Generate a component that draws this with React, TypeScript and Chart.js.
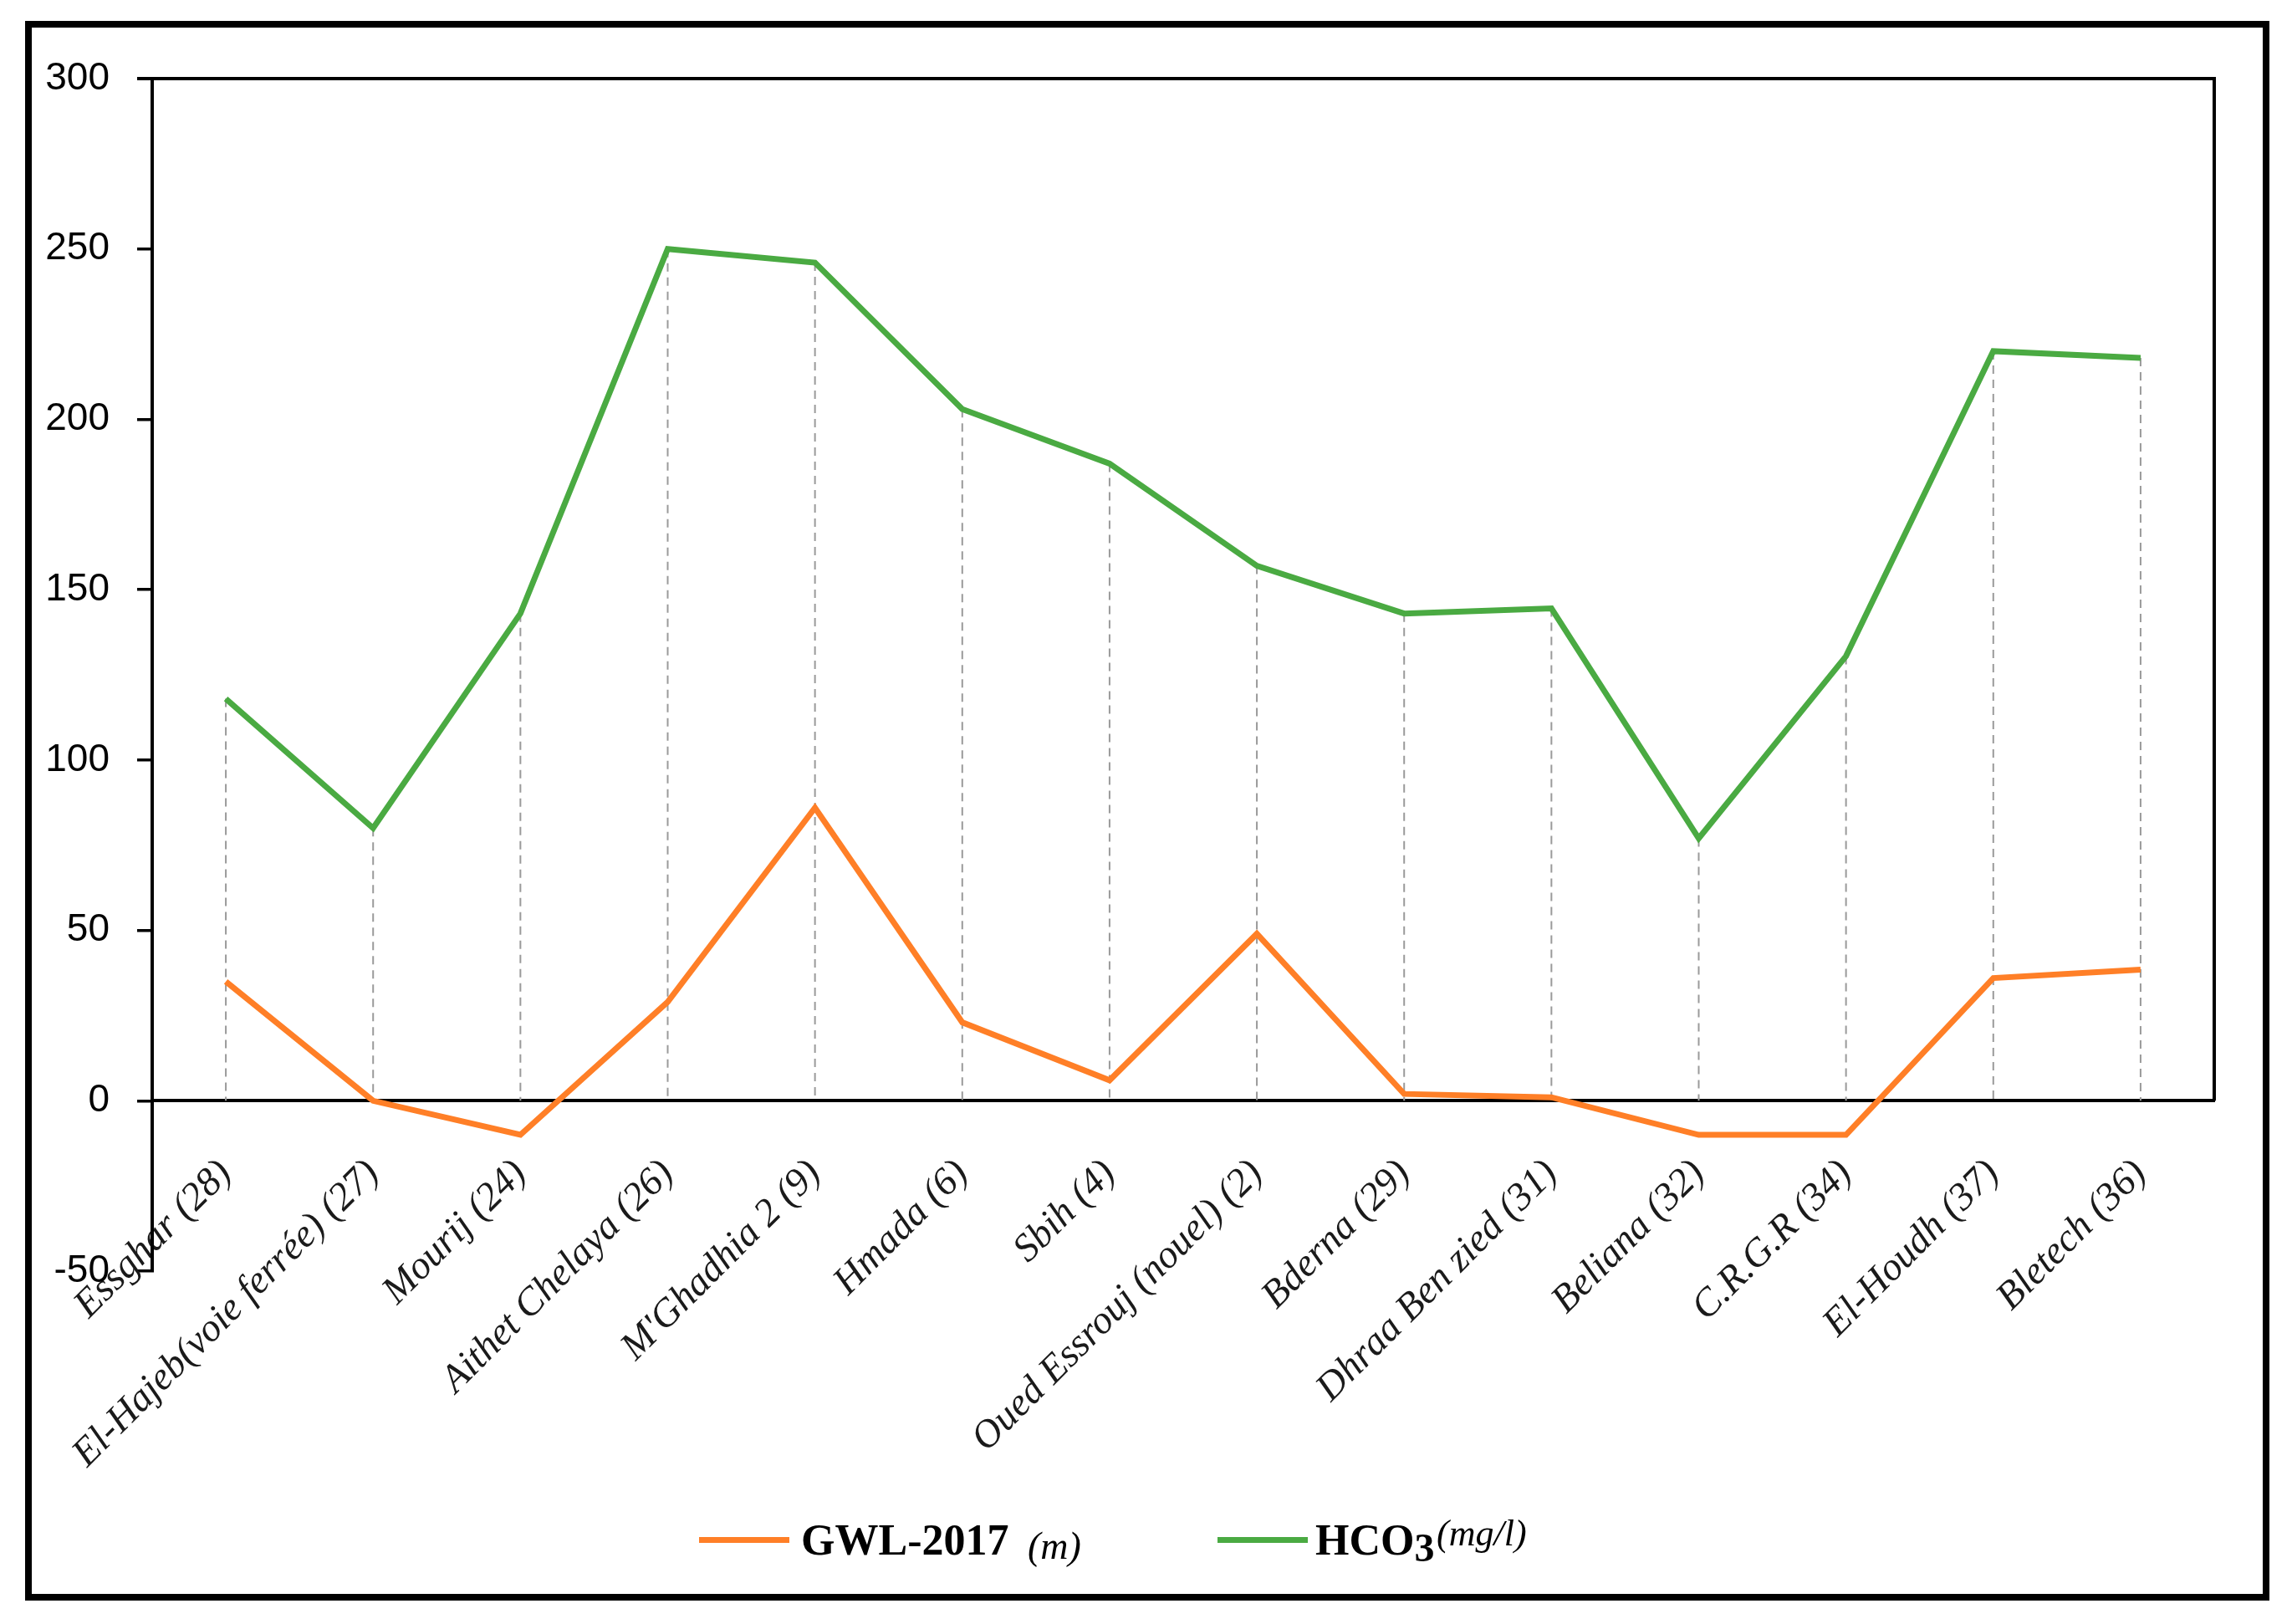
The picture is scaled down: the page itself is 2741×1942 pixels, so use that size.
import React, { useEffect, useRef } from "react";
import { Chart, registerables } from "chart.js";

Chart.register(...registerables);

const categories = [
  "Essghar (28)",
  "El-Hajeb(voie ferrée) (27)",
  "Mourij (24)",
  "Aithet Chelaya (26)",
  "M'Ghadhia 2 (9)",
  "Hmada (6)",
  "Sbih (4)",
  "Oued Essrouj (nouel) (2)",
  "Bderna (29)",
  "Dhraa Ben zied (31)",
  "Beliana (32)",
  "C.R.G.R (34)",
  "El-Houdh (37)",
  "Bletech (36)",
];

const gwl2017 = [35, 0, -10, 29, 86, 23, 6, 49, 2, 1, -10, -10, 36, 38.5];
const hco3 = [118, 80, 143, 250, 246, 203, 187, 157, 143, 144.5, 77, 130.5, 220, 218];

const yMin = -50;
const yMax = 300;
const yStep = 50;

const ORANGE = "#FF7F27";
const GREEN = "#4AAA42";

const framePlugin = {
  id: "frameAndDrops",
  beforeDatasetsDraw(chart: any) {
    const { ctx, scales } = chart;
    const xs = scales.x;
    const ys = scales.y;
    const y0 = ys.getPixelForValue(0);
    const sets = chart.data.datasets;
    ctx.save();
    ctx.strokeStyle = "#9a9a9a";
    ctx.lineWidth = 2;
    ctx.setLineDash([10, 7]);
    categories.forEach((_, i) => {
      const top = Math.max(...sets.map((d: any) => d.data[i]));
      const px = xs.getPixelForValue(i);
      ctx.beginPath();
      ctx.moveTo(px, ys.getPixelForValue(top));
      ctx.lineTo(px, y0);
      ctx.stroke();
    });
    ctx.restore();
  },
  afterDraw(chart: any) {
    const { ctx, chartArea, scales } = chart;
    const y0 = scales.y.getPixelForValue(0);
    ctx.save();
    ctx.strokeStyle = "#000";
    ctx.lineWidth = 4;
    ctx.beginPath();
    ctx.moveTo(chartArea.left - 18, chartArea.top);
    ctx.lineTo(chartArea.right, chartArea.top);
    ctx.lineTo(chartArea.right, y0);
    ctx.stroke();
    ctx.restore();
  },
};

export default function App() {
  const ref = useRef<HTMLCanvasElement | null>(null);

  useEffect(() => {
    if (!ref.current) return;
    const chart = new Chart(ref.current, {
      type: "line",
      data: {
        labels: categories,
        datasets: [
          {
            label: "GWL-2017 (m)",
            data: gwl2017,
            borderColor: ORANGE,
            backgroundColor: ORANGE,
            borderWidth: 7,
            pointRadius: 0,
            tension: 0,
          },
          {
            label: "HCO3 (mg/l)",
            data: hco3,
            borderColor: GREEN,
            backgroundColor: GREEN,
            borderWidth: 7,
            pointRadius: 0,
            tension: 0,
          },
        ],
      },
      options: {
        animation: false,
        responsive: false,
        devicePixelRatio: 1,
        layout: { padding: { left: 52, top: 94, right: 93, bottom: 422 } },
        plugins: { legend: { display: false }, tooltip: { enabled: false } },
        scales: {
          x: {
            type: "category",
            position: { y: 0 } as any,
            offset: true,
            grid: { display: false, drawTicks: false },
            border: { display: true, color: "#000", width: 4 },
            ticks: {
              autoSkip: false,
              minRotation: 45,
              maxRotation: 45,
              padding: 60,
              color: "#1a1a1a",
              font: { family: "'Liberation Serif', serif", size: 47, style: "italic" },
            },
          },
          y: {
            min: yMin,
            max: yMax,
            afterFit: (s: any) => {
              s.width = 130;
            },
            grid: {
              display: true,
              drawOnChartArea: false,
              drawTicks: true,
              tickLength: 18,
              color: "#000",
              lineWidth: 3.5,
            },
            border: { display: true, color: "#000", width: 4 },
            ticks: {
              stepSize: yStep,
              padding: 33,
              color: "#000",
              font: { family: "'Liberation Sans', sans-serif", size: 46 },
            },
          },
        },
      },
      plugins: [framePlugin],
    });
    return () => chart.destroy();
  }, []);

  const serif = "'Liberation Serif', 'Times New Roman', serif";
  const abs = (extra: React.CSSProperties): React.CSSProperties => ({
    position: "absolute",
    whiteSpace: "nowrap",
    lineHeight: 1,
    fontFamily: serif,
    color: "#000",
    ...extra,
  });

  return (
    <div style={{ position: "absolute", left: 0, top: 0, width: 2741, height: 1942, overflow: "hidden", background: "#fff" }}>
      <canvas
        ref={ref}
        width={2741}
        height={1942}
        style={{ position: "absolute", left: 0, top: 0, width: 2741, height: 1942 }}
      />
      <div
        style={{
          position: "absolute",
          left: 30,
          top: 25,
          width: 2684,
          height: 1889,
          border: "8px solid #000",
          boxSizing: "border-box",
          pointerEvents: "none",
        }}
      />
      <div style={{ position: "absolute", left: 836, top: 1838, width: 108, height: 7, background: ORANGE }} />
      <span style={abs({ left: 958, top: 1816, fontSize: 52, fontWeight: "bold" })}>GWL-2017</span>
      <span style={abs({ left: 1229, top: 1826, fontSize: 46, fontStyle: "italic" })}>(m)</span>
      <div style={{ position: "absolute", left: 1456, top: 1838, width: 108, height: 7, background: GREEN }} />
      <span style={abs({ left: 1573, top: 1816, fontSize: 52, fontWeight: "bold" })}>
        HCO<span style={{ position: "relative", top: 8, fontSize: 48 }}>3</span>
      </span>
      <span style={abs({ left: 1718, top: 1812, fontSize: 44, fontStyle: "italic" })}>(mg/l)</span>
    </div>
  );
}
